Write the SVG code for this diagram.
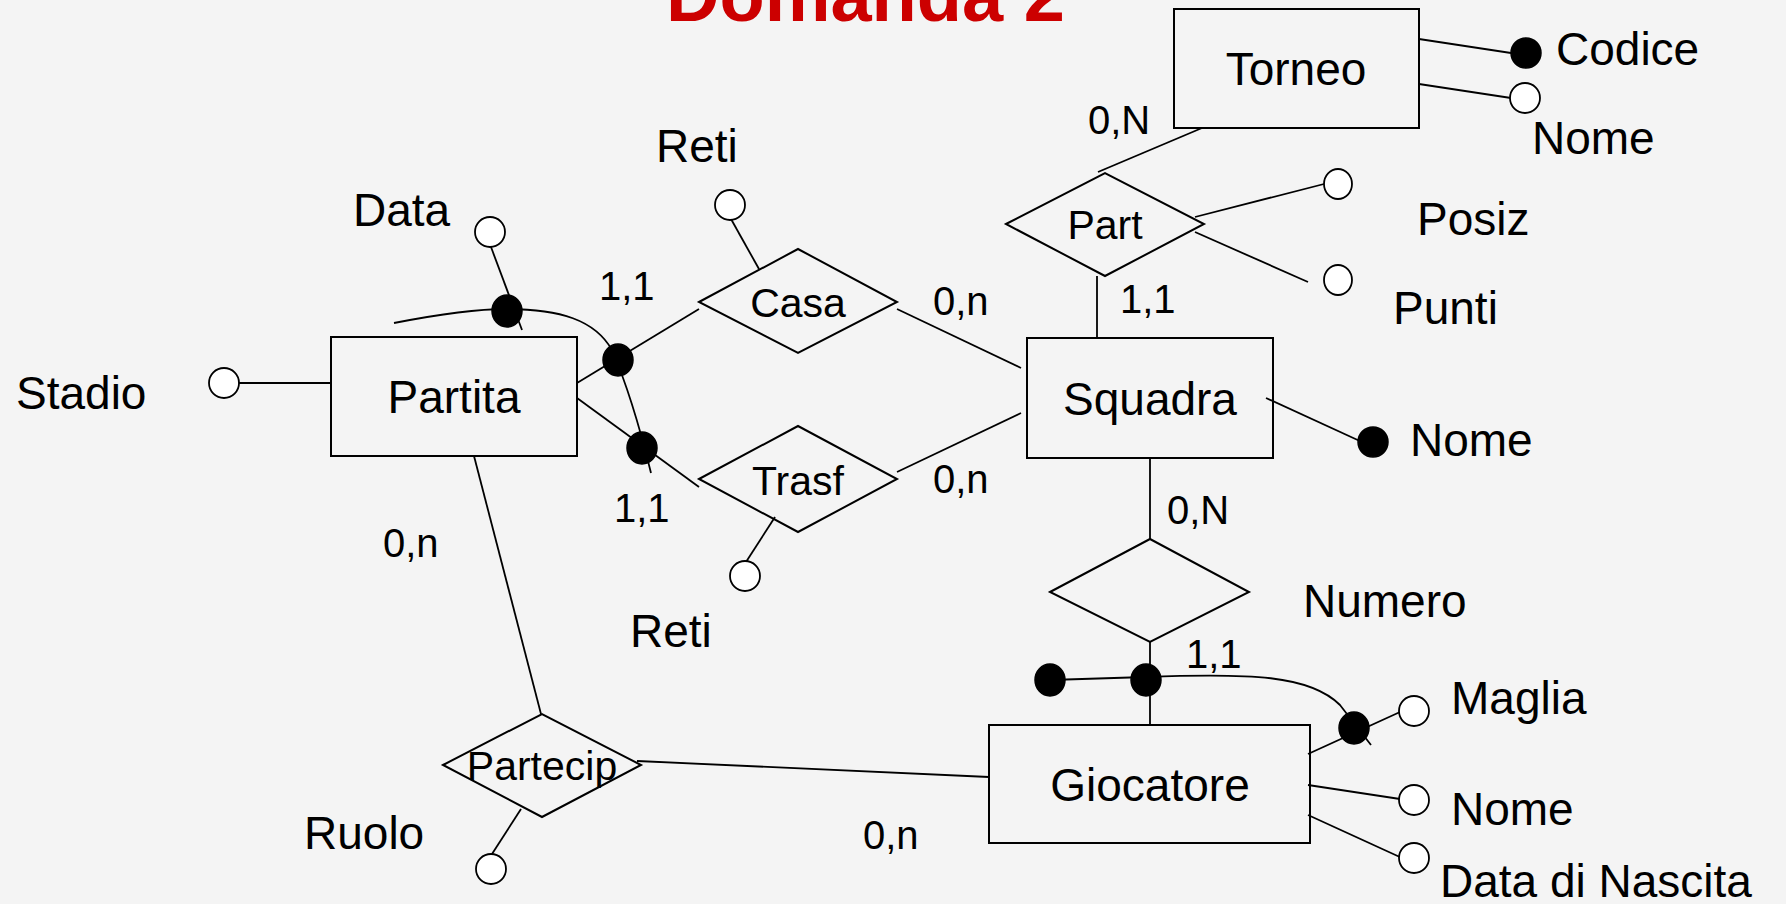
<svg xmlns="http://www.w3.org/2000/svg" width="1786" height="904" viewBox="0 0 1786 904">
<style>
  .bg{fill:#f4f4f4}
  .ent{fill:none;stroke:#000;stroke-width:2}
  .rel{fill:none;stroke:#000;stroke-width:2}
  .ln{fill:none;stroke:#000;stroke-width:1.8}
  .att{fill:#fff;stroke:#000;stroke-width:1.8}
  .key{fill:#000;stroke:#000;stroke-width:1.5}
  text{font-family:"Liberation Sans",Arial,sans-serif;fill:#000}
  .t46{font-size:46px}
  .t41{font-size:41px}
  .t40{font-size:40px}
  .mid{text-anchor:middle}
  .title{font-size:74px;font-weight:bold;fill:#cc0000}
</style>
<rect class="bg" x="0" y="0" width="1786" height="904"/>
<text class="title" x="666" y="21">Domanda 2</text>

<g id="connectors">
  <!-- Torneo attributes -->
  <line class="ln" x1="1419" y1="39" x2="1511" y2="53"/>
  <line class="ln" x1="1419" y1="84" x2="1511" y2="98"/>
  <!-- Torneo - Part -->
  <line class="ln" x1="1202" y1="128" x2="1098" y2="172"/>
  <!-- Part attributes -->
  <line class="ln" x1="1195" y1="217" x2="1324" y2="184"/>
  <line class="ln" x1="1195" y1="232" x2="1308" y2="282"/>
  <!-- Part - Squadra -->
  <line class="ln" x1="1097" y1="276" x2="1097" y2="338"/>
  <!-- Squadra key -->
  <line class="ln" x1="1266" y1="398" x2="1362" y2="442"/>
  <!-- Casa - Squadra -->
  <line class="ln" x1="897" y1="309" x2="1021" y2="368"/>
  <!-- Trasf - Squadra -->
  <line class="ln" x1="897" y1="472" x2="1021" y2="413"/>
  <!-- Partita - Casa / Trasf -->
  <line class="ln" x1="577" y1="383" x2="699" y2="309"/>
  <line class="ln" x1="577" y1="398" x2="699" y2="487"/>
  <!-- Casa attribute Reti -->
  <line class="ln" x1="731" y1="219" x2="759" y2="269"/>
  <!-- Trasf attribute Reti -->
  <line class="ln" x1="746" y1="562" x2="775" y2="517"/>
  <!-- Data attribute -->
  <line class="ln" x1="491" y1="247" x2="522" y2="330"/>
  <!-- Stadio -->
  <line class="ln" x1="239" y1="383" x2="331" y2="383"/>
  <!-- Partita identifier curve -->
  <path class="ln" d="M394,323 C430,316 470,309 506,309 C560,309 595,320 612,350 C625,380 638,420 651,473"/>
  <!-- Partita - Partecip -->
  <line class="ln" x1="474" y1="456" x2="541" y2="714"/>
  <!-- Partecip - Giocatore -->
  <line class="ln" x1="637" y1="761" x2="989" y2="777"/>
  <!-- Ruolo -->
  <line class="ln" x1="492" y1="854" x2="521" y2="809"/>
  <!-- Squadra - Numero - Giocatore -->
  <line class="ln" x1="1150" y1="458" x2="1150" y2="539"/>
  <line class="ln" x1="1150" y1="642" x2="1150" y2="725"/>
  <!-- Giocatore identifier -->
  <path class="ln" d="M1050,680 L1146,677 C1250,673 1310,675 1340,705 L1371,745"/>
  <!-- Giocatore attributes -->
  <line class="ln" x1="1308" y1="754" x2="1400" y2="712"/>
  <line class="ln" x1="1308" y1="785" x2="1400" y2="799"/>
  <line class="ln" x1="1308" y1="815" x2="1402" y2="858"/>
</g>

<g id="Torneo">
  <rect class="ent" x="1174" y="9" width="245" height="119"/>
  <text class="t46 mid" x="1296" y="85">Torneo</text>
</g>
<g id="Torneo-Codice">
  <ellipse class="key" cx="1526" cy="53" rx="15" ry="15"/>
  <text class="t46" x="1556" y="65">Codice</text>
</g>
<g id="Torneo-Nome">
  <ellipse class="att" cx="1525" cy="98" rx="15" ry="15"/>
  <text class="t46" x="1532" y="154">Nome</text>
</g>

<g id="Part">
  <polygon class="rel" points="1006,224 1105,173 1204,224 1105,276"/>
  <text class="t41 mid" x="1105" y="239">Part</text>
</g>
<g id="Part-Posiz">
  <ellipse class="att" cx="1338" cy="184" rx="14" ry="15"/>
  <text class="t46" x="1417" y="235">Posiz</text>
</g>
<g id="Part-Punti">
  <ellipse class="att" cx="1338" cy="280" rx="14" ry="15"/>
  <text class="t46" x="1393" y="324">Punti</text>
</g>

<g id="Squadra">
  <rect class="ent" x="1027" y="338" width="246" height="120"/>
  <text class="t46 mid" x="1150" y="415">Squadra</text>
</g>
<g id="Squadra-Nome">
  <ellipse class="key" cx="1373" cy="442" rx="15" ry="15"/>
  <text class="t46" x="1410" y="456">Nome</text>
</g>

<g id="Casa">
  <polygon class="rel" points="699,302 798,249 897,302 798,353"/>
  <text class="t41 mid" x="798" y="317">Casa</text>
</g>
<g id="Casa-Reti">
  <ellipse class="att" cx="730" cy="205" rx="15" ry="15"/>
  <text class="t46" x="656" y="162">Reti</text>
</g>

<g id="Trasf">
  <polygon class="rel" points="699,479 798,426 897,479 798,532"/>
  <text class="t41 mid" x="798" y="495">Trasf</text>
</g>
<g id="Trasf-Reti">
  <ellipse class="att" cx="745" cy="576" rx="15" ry="15"/>
  <text class="t46" x="630" y="647">Reti</text>
</g>

<g id="Partita">
  <rect class="ent" x="331" y="337" width="246" height="119"/>
  <text class="t46 mid" x="454" y="413">Partita</text>
</g>
<g id="Partita-Data">
  <ellipse class="att" cx="490" cy="232" rx="15" ry="15"/>
  <text class="t46" x="353" y="226">Data</text>
</g>
<g id="Partita-Stadio">
  <ellipse class="att" cx="224" cy="383" rx="15" ry="15"/>
  <text class="t46" x="16" y="409">Stadio</text>
</g>
<g id="Partita-identifier">
  <ellipse class="key" cx="507" cy="311" rx="15" ry="16"/>
  <ellipse class="key" cx="618" cy="360" rx="15" ry="16"/>
  <ellipse class="key" cx="642" cy="448" rx="15" ry="16"/>
</g>

<g id="Partecip">
  <polygon class="rel" points="443,765 542,714 641,765 542,817"/>
  <text class="t41 mid" x="542" y="780">Partecip</text>
</g>
<g id="Partecip-Ruolo">
  <ellipse class="att" cx="491" cy="869" rx="15" ry="15"/>
  <text class="t46" x="304" y="849">Ruolo</text>
</g>

<g id="Numero">
  <polygon class="rel" points="1050,592 1150,539 1249,592 1150,642"/>
  <text class="t46" x="1303" y="617">Numero</text>
</g>

<g id="Giocatore">
  <rect class="ent" x="989" y="725" width="321" height="118"/>
  <text class="t46 mid" x="1150" y="801">Giocatore</text>
</g>
<g id="Giocatore-identifier">
  <ellipse class="key" cx="1050" cy="680" rx="15" ry="16"/>
  <ellipse class="key" cx="1146" cy="680" rx="15" ry="16"/>
  <ellipse class="key" cx="1354" cy="728" rx="15" ry="16"/>
</g>
<g id="Giocatore-Maglia">
  <ellipse class="att" cx="1414" cy="711" rx="15" ry="15"/>
  <text class="t46" x="1451" y="714">Maglia</text>
</g>
<g id="Giocatore-Nome">
  <ellipse class="att" cx="1414" cy="800" rx="15" ry="15"/>
  <text class="t46" x="1451" y="825">Nome</text>
</g>
<g id="Giocatore-DataNascita">
  <ellipse class="att" cx="1414" cy="858" rx="15" ry="15"/>
  <text class="t46" x="1440" y="897">Data di Nascita</text>
</g>

<g id="cardinalities">
  <text class="t40" x="1088" y="134">0,N</text>
  <text class="t40" x="599" y="300">1,1</text>
  <text class="t40" x="933" y="315">0,n</text>
  <text class="t40" x="1120" y="313">1,1</text>
  <text class="t40" x="933" y="493">0,n</text>
  <text class="t40" x="614" y="522">1,1</text>
  <text class="t40" x="1167" y="524">0,N</text>
  <text class="t40" x="383" y="557">0,n</text>
  <text class="t40" x="1186" y="668">1,1</text>
  <text class="t40" x="863" y="849">0,n</text>
</g>
</svg>
